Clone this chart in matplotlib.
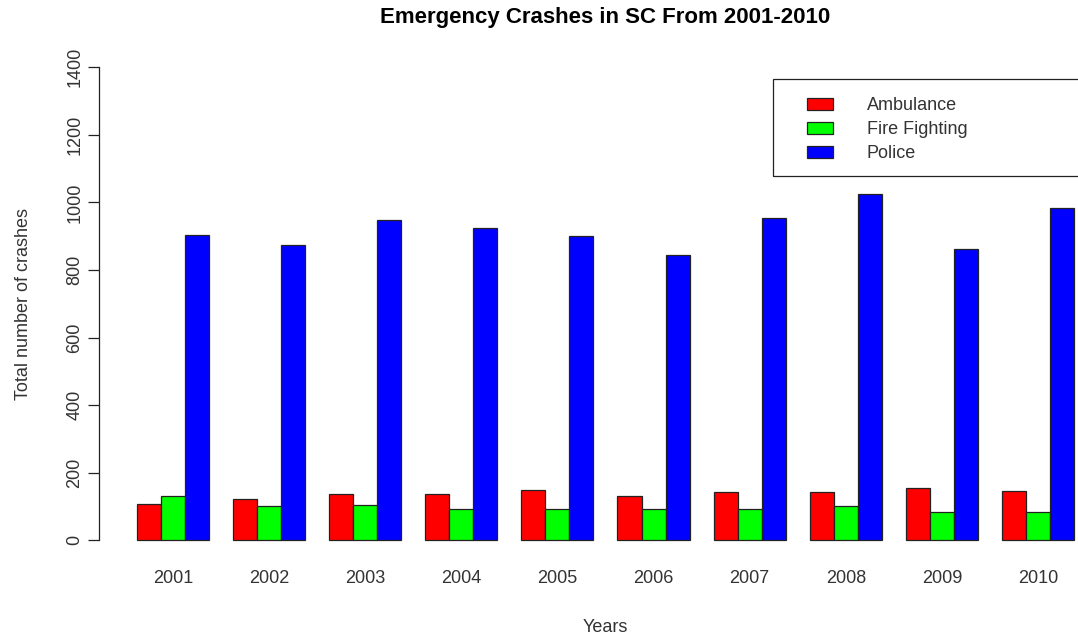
import numpy as np
import matplotlib
matplotlib.use("Agg")
import matplotlib.pyplot as plt
from matplotlib.patches import Rectangle

plt.rcParams['font.family'] = ['Liberation Sans', 'DejaVu Sans']

# Data
years = ['2001', '2002', '2003', '2004', '2005',
         '2006', '2007', '2008', '2009', '2010']
ambulance = [108, 123, 138, 138, 149, 130, 142, 142, 156, 145]
fire_fighting = [130, 100, 104, 92, 92, 92, 92, 100, 85, 85]
police = [903, 873, 947, 925, 900, 843, 955, 1026, 861, 985]

series_names = ['Ambulance', 'Fire Fighting', 'Police']
series_colors = ['#ff0000', '#00ff00', '#0000ff']
series_values = [ambulance, fire_fighting, police]

W, H = 1078, 640
fig = plt.figure(figsize=(W / 100, H / 100), dpi=100)

# plot region in pixels (R style: extends past the right edge of the image)
px_left, px_right = 99.2, 1111.7
px_top, px_bottom = 48.4, 559.2
ax = fig.add_axes([px_left / W, 1 - px_bottom / H,
                   (px_right - px_left) / W, (px_bottom - px_top) / H])

# barplot(beside=TRUE): 3 bars per group, one bar width of space between groups
n = len(years)
group_start = np.arange(n) * 4 + 1
for j, (vals, col) in enumerate(zip(series_values, series_colors)):
    ax.bar(group_start + j + 0.5, vals, width=1.0, color=col,
           edgecolor='#222222', linewidth=0.9)

ax.set_xlim(-0.56, 41.56)
ax.set_ylim(-56, 1456)

for side in ['top', 'right', 'bottom']:
    ax.spines[side].set_visible(False)
ax.spines['left'].set_bounds(0, 1400)
ax.spines['left'].set_linewidth(0.9)
ax.spines['left'].set_color('#222222')

ax.set_yticks(np.arange(0, 1401, 200))
ax.tick_params(axis='y', length=8, width=0.9, color='#222222', pad=3.5,
               labelsize=13, labelcolor='#333333', labelrotation=90)
for lab in ax.get_yticklabels():
    lab.set_va('center')

ax.set_xticks(group_start + 1.5)
ax.set_xticklabels(years)
ax.tick_params(axis='x', length=0, pad=7.8, labelsize=13, labelcolor='#333333')

# titles and axis labels
fig.text(605.5 / W, 1 - 17 / H, 'Emergency Crashes in SC From 2001-2010',
         ha='center', va='center', fontsize=16, fontweight='bold', color='black')
fig.text(605.5 / W, 1 - 627 / H, 'Years', ha='center', va='center',
         fontsize=13, color='#333333')
fig.text(23.5 / W, 1 - 303.8 / H, 'Total number of crashes', ha='center',
         va='center', rotation=90, fontsize=13, color='#333333')

# legend box (cut off at the right edge like the original)
fig.add_artist(Rectangle((773 / W, 1 - 176 / H), 400 / W, (176 - 79.3) / H,
                         transform=fig.transFigure, fill=False,
                         edgecolor='#222222', linewidth=0.9))
row_y = [104, 128, 152]
for name, col, y in zip(series_names, series_colors, row_y):
    fig.add_artist(Rectangle((806.7 / W, 1 - (y + 6) / H), 26.6 / W, 12 / H,
                             transform=fig.transFigure, facecolor=col,
                             edgecolor='#222222', linewidth=0.9))
    fig.text(867 / W, 1 - (y + 2) / H, name, ha='left', va='center',
             fontsize=13, color='#333333')

fig.savefig('out.png', dpi=100)
